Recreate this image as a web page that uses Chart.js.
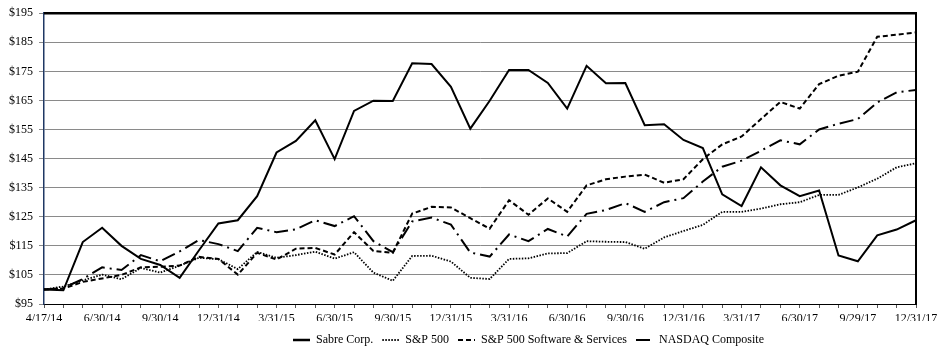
<!DOCTYPE html>
<html><head><meta charset="utf-8">
<script src="https://cdn.jsdelivr.net/npm/chart.js@4.4.1/dist/chart.umd.min.js"></script>
<style>html,body{margin:0;padding:0;background:#fff;}#wrap{width:943px;height:352px;}</style>
</head><body><div id="wrap"><canvas id="c" width="943" height="352"></canvas></div>
<script>
const dates = ["4/17/14","4/30/14","5/30/14","6/30/14","7/31/14","8/29/14","9/30/14","10/31/14","11/28/14","12/31/14",
"1/30/15","2/27/15","3/31/15","4/30/15","5/29/15","6/30/15","7/31/15","8/31/15","9/30/15","10/30/15","11/30/15","12/31/15",
"1/29/16","2/29/16","3/31/16","4/29/16","5/31/16","6/30/16","7/29/16","8/31/16","9/30/16","10/31/16","11/30/16","12/31/16",
"1/31/17","2/28/17","3/31/17","4/28/17","5/31/17","6/30/17","7/31/17","8/31/17","9/29/17","10/31/17","11/30/17","12/31/17"];
const shownTickLabels = ["4/17/14","6/30/14","9/30/14","12/31/14","3/31/15","6/30/15","9/30/15","12/31/15","3/31/16","6/30/16","9/30/16","12/31/16","3/31/17","6/30/17","9/29/17","12/31/17"];
const sabre = [100,99.7,116.3,121.2,115.0,110.5,108.4,104.0,113.5,122.7,123.8,132.1,147.1,151.1,158.2,144.8,161.4,164.9,164.8,177.8,177.5,169.7,155.3,164.9,175.5,175.5,171.0,162.2,176.9,170.9,171.0,156.5,156.8,151.4,148.6,132.7,128.7,142.0,135.8,132.1,134.0,111.7,109.7,118.6,120.6,123.8];
const sp500 = [100,101.0,103.1,105.1,103.5,107.4,105.8,108.2,110.9,110.4,107.0,112.9,110.9,111.8,113.0,110.6,112.8,105.8,103.0,111.5,111.6,109.6,104.0,103.6,110.5,110.7,112.4,112.5,116.6,116.4,116.3,114.0,117.9,120.1,122.2,126.7,126.7,127.8,129.3,130.0,132.5,132.5,135.1,138.1,142.0,143.4];
const spSoftware = [100,100.3,102.6,103.8,105.0,107.6,107.8,108.2,111.2,110.5,105.1,112.6,110.3,114.0,114.3,112.0,119.7,113.2,112.6,126.1,128.4,128.2,124.5,120.9,130.7,125.7,131.3,126.7,135.8,137.9,138.8,139.5,136.7,137.9,144.8,149.9,152.6,158.6,164.5,162.2,170.6,173.5,174.9,186.9,187.6,188.4];
const nasdaq = [100,100.5,103.6,107.6,106.7,111.8,109.7,113.1,117.0,115.6,113.2,121.2,119.7,120.7,123.8,121.8,125.2,116.6,112.8,123.4,124.7,122.3,112.7,111.3,118.9,116.6,120.8,118.2,126.0,127.3,129.7,126.7,130.0,131.4,137.1,142.2,144.3,147.7,151.3,149.9,155.0,157.0,158.6,164.3,167.8,168.6];
const seriesNames = ["Sabre Corp.","S&P 500","S&P 500 Software & Services","NASDAQ Composite"];
const yMin = 95, yMax = 195, yStep = 10;

const FONT = "'Liberation Serif','Times New Roman',serif";
Chart.defaults.font.family = FONT;
Chart.defaults.font.size = 12;
Chart.defaults.color = '#000';

const frame = {
  id: 'frame',
  afterDraw(chart) {
    const {ctx, chartArea: a} = chart;
    ctx.save();
    ctx.strokeStyle = '#000';
    ctx.lineWidth = 2.5;
    ctx.beginPath(); ctx.moveTo(a.left, a.top); ctx.lineTo(a.right + 1, a.top); ctx.stroke();
    ctx.lineWidth = 2;
    ctx.beginPath(); ctx.moveTo(a.right, a.top); ctx.lineTo(a.right, a.bottom); ctx.stroke();
    ctx.restore();
  }
};
const legendShift = {
  id: 'legendShift',
  afterLayout(chart) {
    const lg = chart.legend;
    if (!lg) return;
    const dx = 528.5 - (lg.left + lg.right) / 2;
    lg.left += dx; lg.right += dx;
    const ty = lg.top + lg.options.labels.padding + 6;
    const dy = 340 - ty;
    lg.top += dy; lg.bottom += dy;
  }
};

function ds(label, data, dash, width) {
  return {label, data, borderColor: '#000', backgroundColor: '#000', borderWidth: width,
    borderDash: dash, pointRadius: 0, pointHoverRadius: 0, tension: 0, fill: false};
}

new Chart(document.getElementById('c'), {
  type: 'line',
  data: {
    labels: dates,
    datasets: [
      ds(seriesNames[0], sabre, [], 2),
      ds(seriesNames[1], sp500, [1.5, 1.5], 1.8),
      ds(seriesNames[2], spSoftware, [5, 3], 2),
      ds(seriesNames[3], nasdaq, [14, 5, 2, 5], 2)
    ]
  },
  options: {
    responsive: false,
    animation: false,
    devicePixelRatio: 1,
    layout: {padding: {left: 0, right: 27, top: 11, bottom: 0}},
    plugins: {
      tooltip: {enabled: false},
      legend: {
        position: 'bottom',
        labels: {usePointStyle: true, pointStyle: 'line', pointStyleWidth: 17, padding: 9,
          color: '#000', font: {family: FONT, size: 12},
          generateLabels(chart) {
            const items = Chart.defaults.plugins.legend.labels.generateLabels(chart);
            items.forEach(it => {
              const d = chart.data.datasets[it.datasetIndex];
              it.lineDash = d.borderDash;
              it.lineWidth = it.datasetIndex === 0 ? 2.5 : d.borderWidth;
              it.strokeStyle = '#000';
              it.pointStyle = 'line';
            });
            return items;
          }}
      }
    },
    scales: {
      x: {
        type: 'category',
        offset: false,
        afterFit: s => { s.height = 17; },
        border: {display: true, color: '#000', width: 1},
        grid: {drawOnChartArea: false, drawTicks: true, tickLength: 4, tickColor: '#555', tickWidth: 1},
        ticks: {autoSkip: false, maxRotation: 0, minRotation: 0, padding: 4, color: '#000',
          font: {family: FONT, size: 12},
          callback: (v, i) => shownTickLabels.includes(dates[i]) && i % 3 === 0 ? dates[i] : ''}
      },
      y: {
        min: yMin, max: yMax,
        afterFit: s => { s.width = 44; },
        border: {display: true, color: '#1F3864', width: 1.5},
        grid: {color: '#8a8a8a', lineWidth: 1, drawTicks: true, tickLength: 5, tickColor: '#8a8a8a', tickWidth: 1},
        ticks: {stepSize: yStep, padding: 6, color: '#000', font: {family: FONT, size: 12},
          callback: v => '$' + v}
      }
    }
  },
  plugins: [frame, legendShift]
});
</script></body></html>
